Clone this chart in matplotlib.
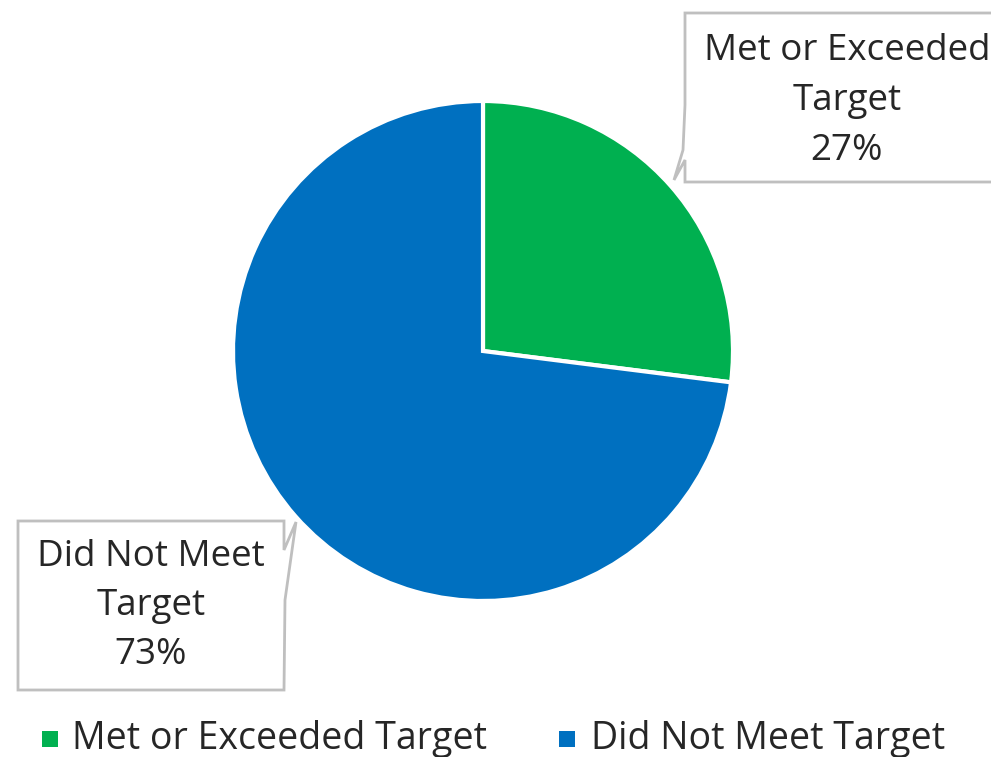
import matplotlib.pyplot as plt
from matplotlib.patches import Polygon, Rectangle

labels = ["Met or Exceeded Target", "Did Not Meet Target"]
values = [27, 73]
box_labels = ["Met or Exceeded\nTarget\n27%", "Did Not Meet\nTarget\n73%"]
colors = ["#00B050", "#0070C0"]

W, H = 991, 757
FONT = ["Open Sans", "DejaVu Sans"]

fig = plt.figure(figsize=(W / 100, H / 100), dpi=100)
ax = fig.add_axes([0, 0, 1, 1])

# pie in pixel coordinates (y measured from the bottom)
ax.pie(values, colors=colors, startangle=90, counterclock=False,
       center=(483, H - 351), radius=250, frame=True,
       wedgeprops=dict(edgecolor="white", linewidth=3))
ax.set_xlim(0, W)
ax.set_ylim(0, H)
ax.set_aspect("equal")
ax.axis("off")


def callout(pts, text, tx, ty):
    poly = Polygon([(x, H - y) for x, y in pts], closed=True,
                   facecolor="white", edgecolor="#BFBFBF", linewidth=2, zorder=5)
    ax.add_patch(poly)
    ax.text(tx, H - ty, text, ha="center", va="center", fontsize=26.5,
            family=FONT, color="#262626", linespacing=1.5, zorder=6)


# top-right callout with pointer on the left edge
callout([(685, 13), (1000, 13), (1000, 182), (685, 182), (685, 160),
         (674, 180), (683, 150), (685, 105)],
        box_labels[0], 847, 101)

# bottom-left callout with pointer on the right edge
callout([(18, 521), (284, 521), (284, 550), (296, 522), (285, 600),
         (284, 690), (18, 690)],
        box_labels[1], 151, 606)

# legend
sq_x = [50, 567]
txt_x = [72, 591]
for i in range(len(labels)):
    ax.add_patch(Rectangle((sq_x[i] - 8, H - 747), 16, 16,
                           facecolor=colors[i], edgecolor="none"))
    ax.text(txt_x[i], H - 739, labels[i], ha="left", va="center",
            fontsize=27, family=FONT, color="#262626")

plt.savefig("out.png", dpi=100)
plt.close()
